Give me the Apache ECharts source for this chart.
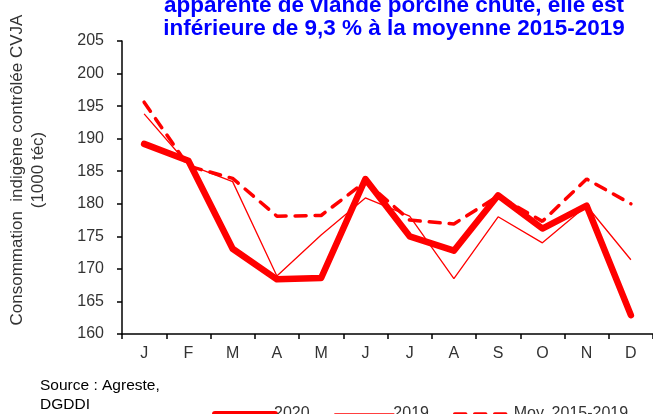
<!DOCTYPE html>
<html><head><meta charset="utf-8">
<script src="https://cdn.jsdelivr.net/npm/echarts@6/dist/echarts.min.js"></script>
<style>html,body{margin:0;padding:0;background:#fff}#c{width:653px;height:414px}</style>
</head><body><div id="c"></div>
<script>
const months = ['J','F','M','A','M','J','J','A','S','O','N','D'];
const s2020 = [189.2,186.6,173.1,168.4,168.6,183.8,175.0,172.8,181.3,176.2,179.7,162.9];
const s2019 = [193.8,186.0,183.4,168.9,175.2,180.9,178.1,168.5,178.0,174.0,179.7,171.4];
const sMoy = [195.6,185.8,183.9,178.1,178.2,183.4,177.5,176.9,181.2,177.3,183.8,180.0];
const yTicks = {min:160,max:205,interval:5};
const names = ['2020','2019','Moy. 2015-2019'];
const FONT = '"Liberation Sans", Arial, sans-serif';
const chart = echarts.init(document.getElementById('c'));
chart.setOption({
  animation:false,
  textStyle:{fontFamily:FONT},
  grid:{left:122,top:41,width:534,height:293,containLabel:false},
  graphic:[
    {type:'text',x:394,y:-6,style:{text:'apparente de viande porcine chute, elle est\ninférieure de 9,3 % à la moyenne 2015-2019',
      font:'bold 22.5px '+FONT,fill:'#0000ff',align:'center',verticalAlign:'top',lineHeight:23}},
    {type:'text',x:28,y:170,rotation:Math.PI/2,style:{text:'Consommation  indigène contrôlée CVJA\n(1000 téc)',
      font:'17px '+FONT,fill:'#333',align:'center',verticalAlign:'middle',lineHeight:21}},
    {type:'text',x:40,y:376,style:{text:'Source : Agreste,\nDGDDI',font:'15.5px '+FONT,fill:'#000',align:'left',verticalAlign:'top',lineHeight:19}}
  ],
  legend:{left:207,top:401,itemWidth:60,itemHeight:14,itemGap:24,
    textStyle:{fontSize:16,color:'#333',fontFamily:FONT,padding:[0,0,0,-6]},
    data:[
      {name:names[0],itemStyle:{opacity:0},lineStyle:{color:'#ff0000',width:6,cap:'round'}},
      {name:names[1],itemStyle:{opacity:0},lineStyle:{color:'#ff0000',width:1.5}},
      {name:names[2],itemStyle:{opacity:0},lineStyle:{color:'#ff0000',width:3.5,type:[11,9]}}
    ]},
  xAxis:{type:'category',data:months,boundaryGap:true,
    axisLine:{lineStyle:{color:'#000',width:1.5}},
    axisTick:{show:true,length:5,lineStyle:{color:'#000',width:1.5},alignWithLabel:false},
    axisLabel:{fontSize:16,color:'#333',margin:12,fontFamily:FONT},splitLine:{show:false}},
  yAxis:{type:'value',min:yTicks.min,max:yTicks.max,interval:yTicks.interval,
    axisLine:{show:true,lineStyle:{color:'#000',width:1.5}},
    axisTick:{show:true,length:5,lineStyle:{color:'#000',width:1.5}},
    axisLabel:{fontSize:16,color:'#333',margin:18,fontFamily:FONT},splitLine:{show:false}},
  series:[
    {name:names[0],type:'line',data:s2020,symbol:'none',z:3,lineStyle:{color:'#ff0000',width:6.5,cap:'round',join:'round'},itemStyle:{color:'#ff0000'}},
    {name:names[1],type:'line',data:s2019,symbol:'none',z:2,lineStyle:{color:'#ff0000',width:1.3},itemStyle:{color:'#ff0000'}},
    {name:names[2],type:'line',data:sMoy,symbol:'none',z:1,lineStyle:{color:'#ff0000',width:3.5,type:[11,9],cap:'round'},itemStyle:{color:'#ff0000'}}
  ]
});
</script></body></html>
